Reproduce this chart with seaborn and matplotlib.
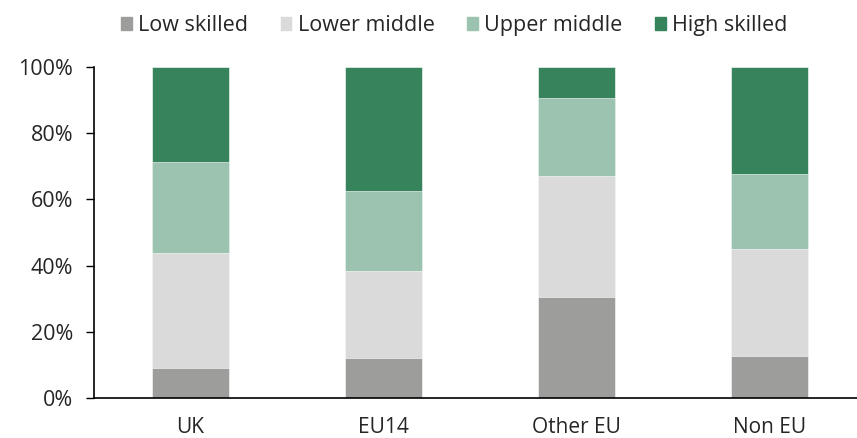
import numpy as np
import pandas as pd
import matplotlib
matplotlib.use("Agg")
import matplotlib.pyplot as plt
import seaborn as sns
from matplotlib.patches import Patch

groups = ["UK", "EU14", "Other EU", "Non EU"]
low_skilled = [9.2, 12.1, 30.5, 12.8]
lower_middle = [34.7, 26.4, 36.7, 32.3]
upper_middle = [27.4, 23.9, 23.3, 22.7]
high_skilled = [28.7, 37.6, 9.5, 32.2]

series = ["Low skilled", "Lower middle", "Upper middle", "High skilled"]
colors = ["#9d9d9c", "#dadada", "#9cc3b0", "#37845c"]

sns.set_style("white")
plt.rcParams["font.family"] = ["Open Sans", "DejaVu Sans"]

df = pd.DataFrame({"group": groups, "Low skilled": low_skilled,
                   "Lower middle": lower_middle, "Upper middle": upper_middle,
                   "High skilled": high_skilled})

fig = plt.figure(figsize=(8.57, 4.38), dpi=100)
ax = fig.add_axes([94 / 857, 40 / 438, (866 - 94) / 857, 331 / 438])

# stacked: draw cumulative totals from the top layer down
cum = df[series].cumsum(axis=1)
for name, col in reversed(list(zip(series, colors))):
    sns.barplot(x=df["group"], y=cum[name], color=col, width=0.4,
                saturation=1, edgecolor="white", linewidth=0.4, ax=ax)

ax.set_ylim(0, 100)
ax.set_xlim(-0.5, 3.5)
ax.set_yticks(np.arange(0, 101, 20))
ax.set_yticklabels([f"{v}%" for v in range(0, 101, 20)])
ax.set_xlabel("")
ax.set_ylabel("")
for s in ["top", "right"]:
    ax.spines[s].set_visible(False)
for s in ["left", "bottom"]:
    ax.spines[s].set_color("black")
    ax.spines[s].set_linewidth(1.2)
ax.tick_params(axis="y", left=True, length=6, width=1, color="black",
               labelsize=15.5, pad=9)
ax.tick_params(axis="x", bottom=False, labelsize=15, pad=10)

handles = [Patch(color=c, label=n) for n, c in zip(series, colors)]
fig.legend(handles=handles, loc="upper center", bbox_to_anchor=(0.53, 1.01),
           ncol=4, frameon=False, fontsize=15.5, handlelength=0.5,
           handleheight=0.6, handletextpad=0.3, columnspacing=1.5)

fig.savefig("out.png", dpi=100)
